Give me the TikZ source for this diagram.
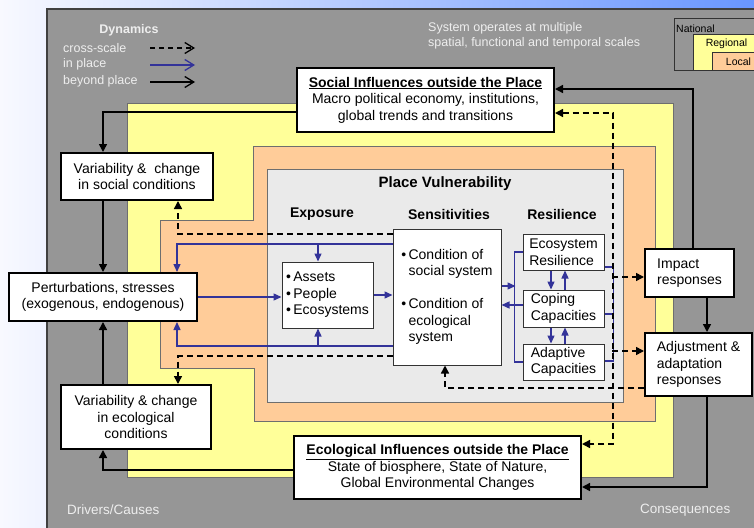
\documentclass[tikz,border=0pt]{standalone}
\usepackage{fontspec}
\setmainfont{Liberation Sans}
\usetikzlibrary{arrows.meta}
\definecolor{panel}{RGB}{150,150,150}
\definecolor{yel}{RGB}{255,255,153}
\definecolor{org}{RGB}{255,204,153}
\definecolor{pv}{RGB}{234,234,234}
\definecolor{myblue}{RGB}{51,51,153}
\definecolor{ltxt}{RGB}{238,238,238}
\definecolor{edgegray}{RGB}{110,110,110}
\newcommand{\fsz}[2]{\fontsize{#1}{#2}\selectfont}
\tikzset{
  bigbox/.style={draw=black, line width=2pt, fill=white, inner sep=0pt, align=center, font=\fsz{14}{16.5}},
  smallbox/.style={draw=black!80, line width=1pt, fill=white, inner sep=0pt, align=left, font=\fsz{14}{16.5}},
  lgtext/.style={text=ltxt, inner sep=0pt, font=\fsz{12.5}{15}},
  blk/.style={line width=1.5pt, -{Triangle[length=8pt,width=8pt]}},
  dsh/.style={line width=1.5pt, dash pattern=on 6pt off 4pt, -{Triangle[length=8pt,width=8pt]}},
  blu/.style={draw=myblue, line width=1.4pt},
  bluarr/.style={blu, -{Triangle[length=8pt,width=7pt]}},
  head/.style={inner sep=0pt, font=\bfseries\fsz{14}{16}},
}
\begin{document}
\begin{tikzpicture}[x=1pt,y=-1pt]
\shade[left color={rgb,255:red,248;green,249;blue,255}, right color={rgb,255:red,105;green,150;blue,255}] (0,0) rectangle (754,527);
\useasboundingbox (0,0) rectangle (754,527);
% panels
\filldraw[fill=panel, draw=black!75, line width=1.5pt] (47,9) rectangle (765,540);
\filldraw[fill=yel, draw=edgegray, line width=0.8pt] (127,103) rectangle (673,477);
\filldraw[fill=org, draw=edgegray, line width=0.8pt] (253,146) -- (655,146) -- (655,421) -- (254,421) -- (254,368) -- (160,368) -- (160,220) -- (253,220) -- cycle;
\filldraw[fill=pv, draw=edgegray, line width=0.8pt] (267,169) rectangle (623,402);
% scale legend
\filldraw[fill=panel, draw=black!80, line width=1pt] (674,19) rectangle (765,70);
\filldraw[fill=yel, draw=black!80, line width=1pt] (693,35) rectangle (765,70);
\filldraw[fill=org, draw=black!80, line width=1pt] (712,53) rectangle (765,70);
\node[anchor=west, inner sep=0pt, font=\fsz{10.5}{12}] (nat) at (676,29) {National};
\node[inner sep=0pt, font=\fsz{10.5}{12}] (reg) at (726.5,44) {Regional};
\node[inner sep=0pt, font=\fsz{10.5}{12}] (loc) at (738.5,62) {Local};
% dynamics legend
\node[lgtext, font=\bfseries\fsz{12.5}{15}] (dyn) at (129,30) {Dynamics};
\node[lgtext, anchor=west] (lcs) at (63,48) {cross-scale};
\node[lgtext, anchor=west] (lip) at (63,64.5) {in place};
\node[lgtext, anchor=west] (lbp) at (63,81) {beyond place};
\coordinate (la1) at (150,48); \coordinate (lb1) at (195,48);
\coordinate (la2) at (150,65); \coordinate (lb2) at (195,65);
\coordinate (la3) at (150,82); \coordinate (lb3) at (195,82);
\draw[line width=1.3pt, dash pattern=on 5pt off 4pt, -{Straight Barb[length=9pt,width=11pt]}] (la1) -- (lb1);
\draw[myblue, line width=1.3pt, -{Straight Barb[length=9pt,width=11pt]}] (la2) -- (lb2);
\draw[line width=1.3pt, -{Straight Barb[length=9pt,width=11pt]}] (la3) -- (lb3);
\node[lgtext, anchor=west, align=left] (sys) at (428,35.5) {System operates at multiple\\spatial, functional and temporal scales};
\node[lgtext, anchor=west, font=\fsz{13.5}{16}] (drv) at (67,510) {Drivers/Causes};
\node[lgtext, anchor=west, font=\fsz{13.5}{16}] (cons) at (640,510) {Consequences};
% headings
\node[head, font=\bfseries\fsz{15}{17}] (hpv) at (445,184) {Place Vulnerability};
\node[head] (hex) at (322,214) {Exposure};
\node[head] (hse) at (449,214) {Sensitivities};
\node[head] (hre) at (562,214) {Resilience};
% main boxes
\node[bigbox, minimum width=257pt, minimum height=64pt] (soc) at (425.5,100)
  {\underline{\textbf{Social Influences outside the Place}}\\Macro political economy, institutions,\\global trends and transitions};
\node[bigbox, minimum width=287pt, minimum height=63pt] (eco) at (437.5,467.5)
  {\underline{\textbf{Ecological Influences outside the Place}}\\State of biosphere, State of Nature,\\Global Environmental Changes};
\node[bigbox, minimum width=152pt, minimum height=47pt] (vsoc) at (137,176.5)
  {Variability \&\ \ change\\in social conditions};
\node[bigbox, minimum width=188pt, minimum height=48pt] (pert) at (103,297)
  {Perturbations, stresses\\(exogenous, endogenous)};
\node[bigbox, minimum width=150pt, minimum height=64pt] (veco) at (136,417)
  {Variability \& change\\in ecological\\conditions};
\node[bigbox, align=left, minimum width=89pt, minimum height=48pt] (imp) at (689.5,273)
  {Impact\\responses};
\node[bigbox, align=left, minimum width=107pt, minimum height=63pt] (adj) at (698.5,364.5)
  {Adjustment \&\\adaptation\\responses};
% inner boxes
\node[smallbox, minimum width=91pt, minimum height=66pt] (expo) at (327.5,295)
  {•\,Assets\\•\,People\\•\,Ecosystems};
\node[smallbox, minimum width=108pt, minimum height=136pt] (sens) at (447,297)
  {\begin{tabular}{@{}l@{\,}l@{}}•&Condition of\\&social system\\&\\•&Condition of\\&ecological\\&system\end{tabular}};
\node[smallbox, minimum width=81pt, minimum height=36pt] (er) at (563.5,252) {Ecosystem\\Resilience};
\node[smallbox, minimum width=81pt, minimum height=37pt] (cc) at (563.5,308.5) {Coping\\Capacities};
\node[smallbox, minimum width=81pt, minimum height=36pt] (ac) at (563.5,362) {Adaptive\\Capacities};
% blue in-place connectors
\draw[bluarr] (pert.east) -- (pert.east -| expo.west);
\draw[bluarr] (expo.east) -- (expo.east -| sens.west);
\draw[bluarr] ([yshift=53pt]sens.west) -| ([xshift=74pt]pert.north);
\draw[bluarr] ([xshift=-9.5pt,yshift=18pt]expo.north) -- ([xshift=-9.5pt]expo.north);
\draw[bluarr] ([yshift=-49pt]sens.west) -| ([xshift=74pt]pert.south);
\draw[bluarr] ([xshift=-9.5pt,yshift=-18pt]expo.south) -- ([xshift=-9.5pt]expo.south);
\draw[blu] (er.west) -- ++(-8,0) |- (ac.west);
\draw[bluarr] ([yshift=11pt]sens.east) -- ++(14,0);
\draw[bluarr] ([yshift=3.5pt]cc.west) -- ([yshift=-8pt]sens.east);
\draw[bluarr] ([xshift=-12.5pt]er.south) -- ([xshift=-12.5pt]cc.north);
\draw[bluarr] ([xshift=1.5pt]cc.north) -- ([xshift=1.5pt]er.south);
\draw[bluarr] ([xshift=-12.5pt]cc.south) -- ([xshift=-12.5pt]ac.north);
\draw[bluarr] ([xshift=1.5pt]ac.north) -- ([xshift=1.5pt]cc.south);
\draw[blu] ([yshift=-15pt]er.east) -- ++(9,0) |- ([yshift=1pt]ac.east);
\draw[blu] ([yshift=-5.5pt]cc.east) -- ++(9,0);
% beyond-place connectors
\draw[blk] ([yshift=-12pt]soc.west) -| ([xshift=-34pt]vsoc.north);
\draw[blk] ([xshift=-34pt]vsoc.south) -- (pert.north);
\draw[blk] ([xshift=-33pt]veco.north) -- (pert.south);
\draw[blk] ([yshift=-2.5pt]eco.west) -| ([xshift=-33pt]veco.south);
\draw[blk] ([xshift=17.5pt]imp.south) -- ([xshift=8.5pt]adj.north);
\draw[blk] ([xshift=8.5pt]adj.south) |- ([yshift=-19.5pt]eco.east);
\draw[blk] ([xshift=3.5pt]imp.north) |- ([yshift=11pt]soc.east);
% cross-scale connectors
\coordinate (rb) at (613,300);
\draw[dsh, {Triangle[length=8pt,width=8pt]}-{Triangle[length=8pt,width=8pt]}] ([yshift=-13pt]soc.east) -| (rb) |- ([yshift=23.5pt]eco.east);
\draw[dsh] ([yshift=-4pt]imp.west) ++(-32,0) -- ([yshift=-4pt]imp.west);
\draw[dsh] ([yshift=13.5pt]adj.west) ++(-32,0) -- ([yshift=13.5pt]adj.west);
\draw[dsh] ([yshift=-23.5pt]adj.west) -| ([xshift=-2pt]sens.south);
\draw[dsh] ([yshift=63pt]sens.west) -| ([xshift=41pt]vsoc.south);
\draw[dsh] ([yshift=-59pt]sens.west) -| ([xshift=42pt]veco.north);
\end{tikzpicture}
\end{document}
